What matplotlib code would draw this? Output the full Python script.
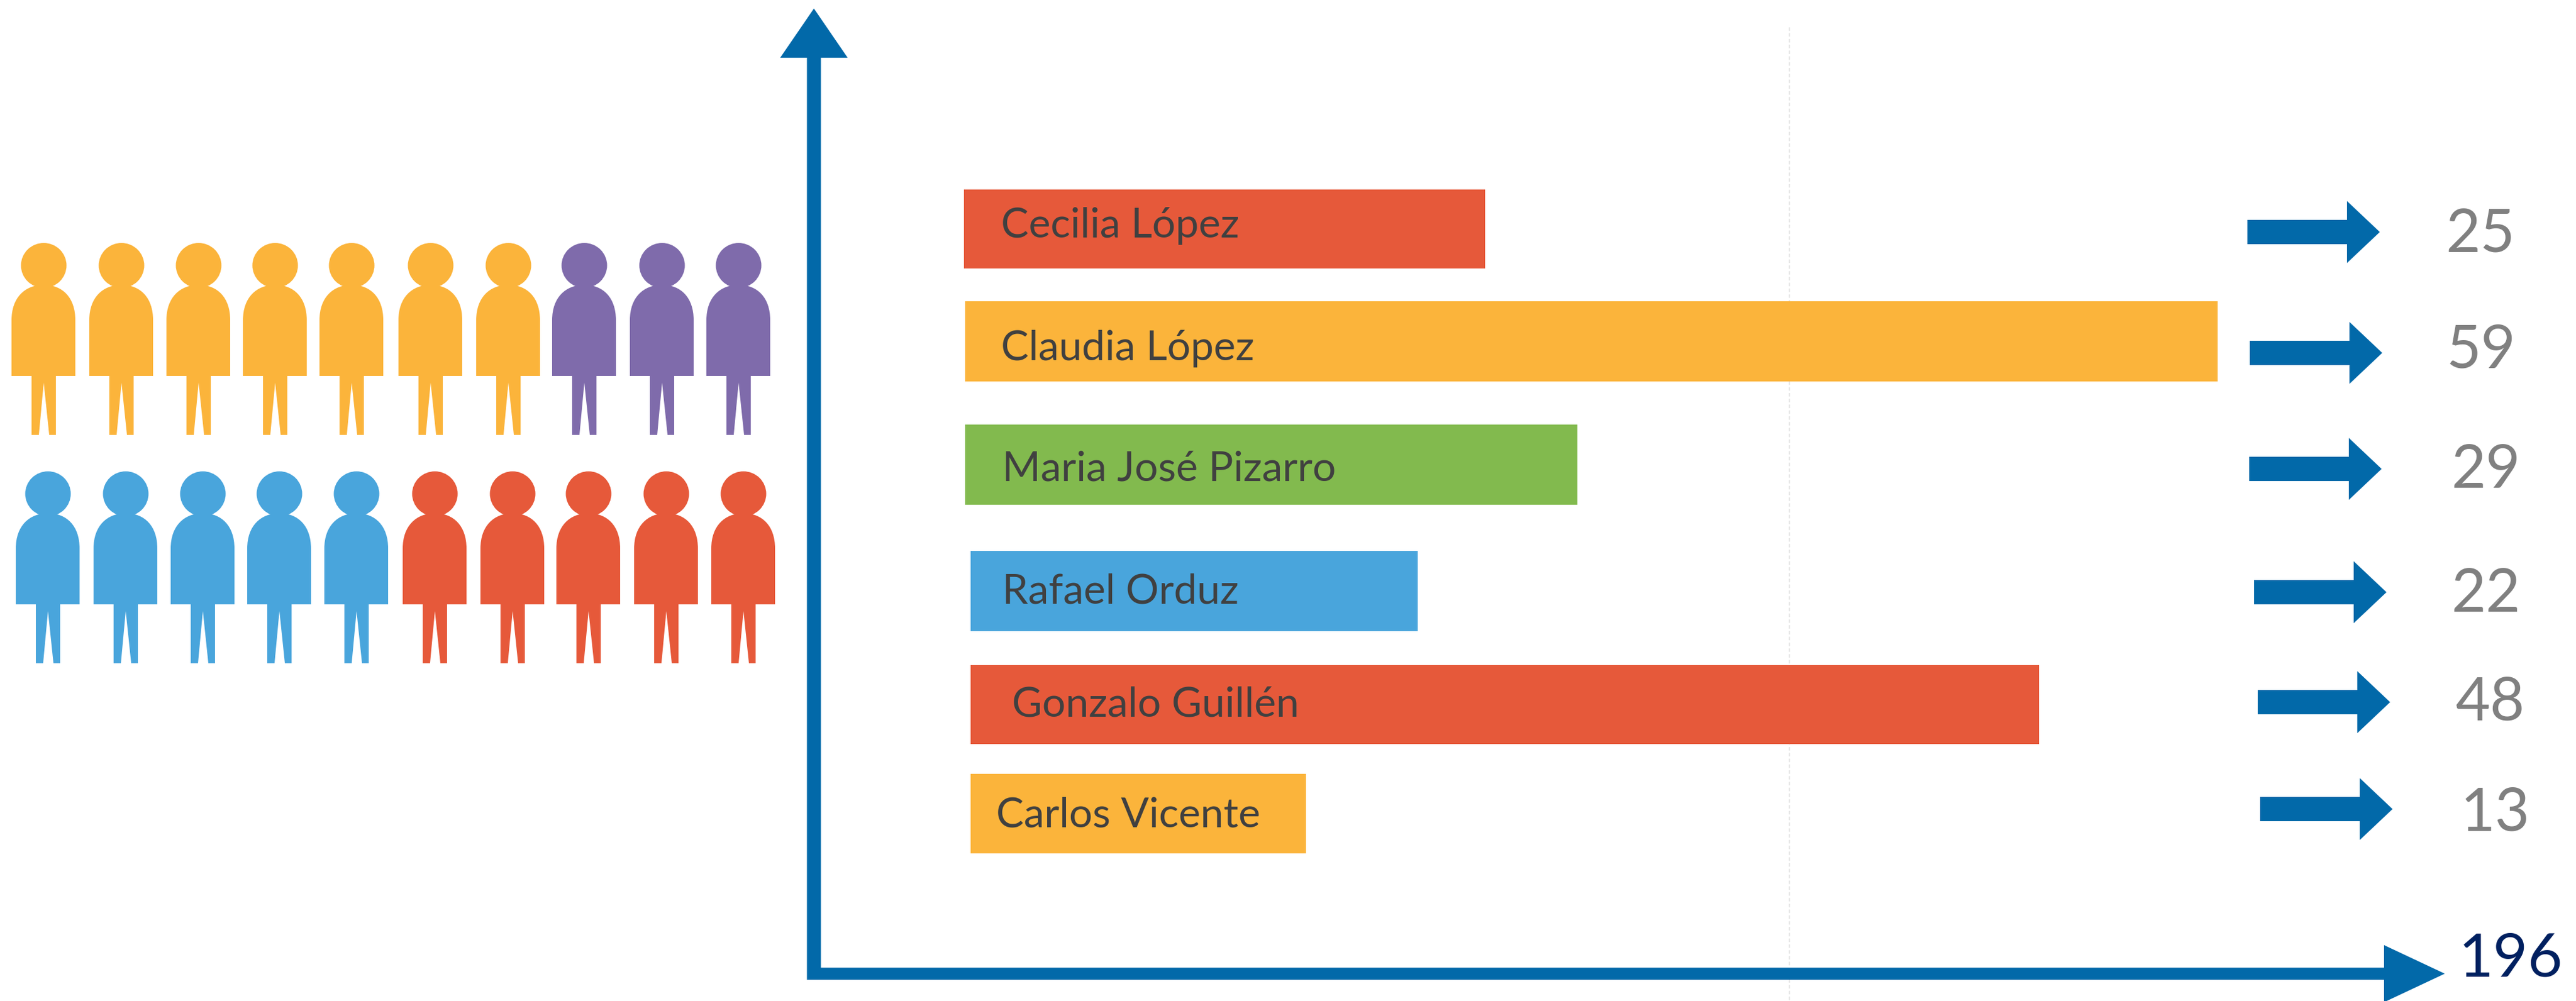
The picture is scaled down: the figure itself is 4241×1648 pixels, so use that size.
import matplotlib
matplotlib.use("Agg")
import matplotlib.pyplot as plt
from matplotlib.patches import Ellipse, PathPatch
from matplotlib.path import Path

# data
names = ['Cecilia López', 'Claudia López', 'Maria José Pizarro', 'Rafael Orduz', 'Gonzalo Guillén', 'Carlos Vicente']
values = [25, 59, 29, 22, 48, 13]
total = 196
bar_lengths = [858, 2062, 1008, 736, 1759, 552]  # drawn lengths, not to scale with values
row1_groups = [(7, 'yellow'), (3, 'purple')]
row2_groups = [(5, 'blue'), (5, 'red')]

colors = {'red': '#E6593A', 'yellow': '#FBB43B', 'green': '#82BA4E', 'blue': '#49A5DC', 'purple': '#7F6BAB'}
bar_colors = ['red', 'yellow', 'green', 'blue', 'red', 'yellow']
arrow_blue = '#0269A9'

# layout, in pixels of the final image
bar_left = [1587, 1589, 1589, 1598, 1598, 1598]
bar_top = [312, 496, 699, 907, 1095, 1274]
bar_bottom = [442, 628, 831, 1039, 1225, 1405]
text_x = [1648, 1648, 1650, 1650, 1666, 1640]
text_base = [391, 593, 791, 993, 1180, 1362]
arrow_x = [3700, 3704, 3703, 3711, 3717, 3721]
arrow_y = [382, 581, 772, 975, 1156, 1332]
num_x = [4084, 4085, 4093, 4093, 4100, 4108]
num_base = [414, 606, 803, 1007, 1186, 1368]
row1_x = [19, 147, 274, 400, 526, 656, 784, 909, 1037, 1163]
row2_x = [26, 154, 281, 407, 534, 663, 791, 916, 1044, 1171]
row_y = [400, 776]

fig = plt.figure(figsize=(4241 / 100, 1648 / 100), dpi=100)
ax = fig.add_axes([0, 0, 1, 1])
ax.set_xlim(0, 4241)
ax.set_ylim(1648, 0)
ax.axis('off')


def person(x, y, color):
    ax.add_patch(Ellipse((x + 53, y + 37), 75, 74, fc=color, ec='none'))
    verts = [(0, 219), (0, 127), (0, 90), (22, 69), (53, 69), (84, 69), (105, 90), (105, 127),
             (105, 219), (73, 219), (73, 316), (62, 316), (53, 230), (45, 316), (33, 316), (33, 219), (0, 219)]
    codes = [Path.MOVETO, Path.LINETO, Path.CURVE4, Path.CURVE4, Path.CURVE4, Path.CURVE4, Path.CURVE4, Path.CURVE4,
             Path.LINETO, Path.LINETO, Path.LINETO, Path.LINETO, Path.LINETO, Path.LINETO, Path.LINETO, Path.LINETO, Path.CLOSEPOLY]
    verts = [(x + vx, y + vy) for vx, vy in verts]
    ax.add_patch(PathPatch(Path(verts, codes), fc=color, ec='none'))


for groups, xs, y in [(row1_groups, row1_x, row_y[0]), (row2_groups, row2_x, row_y[1])]:
    keys = [k for n, k in groups for _ in range(n)]
    for x, k in zip(xs, keys):
        person(x, y, colors[k])

# dotted gridline behind the axes
ax.plot([2946, 2946], [45, 1648], color='#E8E8E8', lw=1.6, ls=(0, (2.6, 1.7)), zorder=1)

# bars and their labels
heights = [b - t for t, b in zip(bar_top, bar_bottom)]
ax.barh(bar_top, bar_lengths, height=heights, left=bar_left, align='edge',
        color=[colors[c] for c in bar_colors], zorder=2)
for i, name in enumerate(names):
    ax.text(text_x[i], text_base[i], name, family='Lato', fontsize=49, color='#404040', va='baseline', ha='left', zorder=3)
    ax.arrow(arrow_x[i], arrow_y[i], 218, 0, width=40, head_width=102, head_length=54,
             length_includes_head=True, fc=arrow_blue, ec='none', zorder=3)
    ax.text(num_x[i], num_base[i], str(values[i]), family='Lato', fontsize=71, color='#808080',
            va='baseline', ha='center', zorder=3)

# main axes arrows
ax.arrow(1340, 1613, 0, -1599, width=23, head_width=111, head_length=81,
         length_includes_head=True, fc=arrow_blue, ec='none', zorder=4)
ax.arrow(1329, 1603, 2696, 0, width=20, head_width=94, head_length=100,
         length_includes_head=True, fc=arrow_blue, ec='none', zorder=4)
ax.text(4134, 1607, str(total), family='Lato', fontsize=71, color='#002060', va='baseline', ha='center', zorder=4)

plt.savefig('out.png', dpi=100)
